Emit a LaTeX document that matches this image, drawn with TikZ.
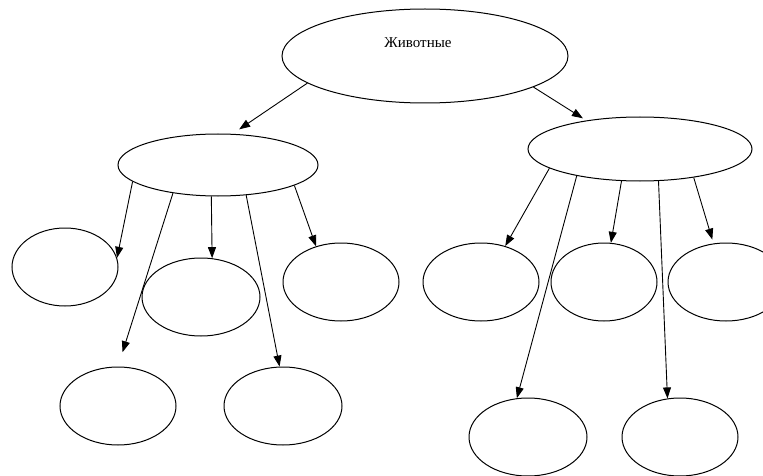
\documentclass[tikz,border=0pt]{standalone}
\usepackage{fontspec}
\setmainfont{Liberation Serif}
\usepackage{tikz}
\usetikzlibrary{positioning, shapes}
\usetikzlibrary{arrows.meta}

\tikzset{
  oval/.style={draw, ellipse, inner sep=0pt, line width=1pt},
  link/.style={->, line width=0.9pt}
}

\begin{document}
\begin{tikzpicture}[x=1pt, y=-1pt, >={Triangle[length=11pt, width=8pt]}]

% Manually size the picture
\clip (0, 0) rectangle (763, 476);

% Top
\node[oval, minimum width=286, minimum height=94] (animals) at (425, 56) {};
\node[font=\fontsize{15}{18}\selectfont] (title) at (418, 43) {Животные};

% Middle level
\node[oval, minimum width=200, minimum height=62] (left) at (218, 165) {};
\node[oval, minimum width=224, minimum height=64] (right) at (640, 149) {};

% Left group
\node[oval, minimum width=106, minimum height=78] (l1) at (65, 267) {};
\node[oval, minimum width=118, minimum height=78] (l2) at (201, 297) {};
\node[oval, minimum width=116, minimum height=78] (l3) at (341, 282) {};
\node[oval, minimum width=116, minimum height=78] (l4) at (118, 406) {};
\node[oval, minimum width=118, minimum height=78] (l5) at (283, 406) {};

% Right group
\node[oval, minimum width=116, minimum height=78] (r1) at (481, 282) {};
\node[oval, minimum width=106, minimum height=78] (r2) at (604, 282) {};
\node[oval, minimum width=116, minimum height=78] (r3) at (726, 282) {};
\node[oval, minimum width=118, minimum height=78] (r4) at (528, 437) {};
\node[oval, minimum width=116, minimum height=78] (r5) at (680, 437) {};

% Arrows from the top
\draw[link, shorten >=8pt] (animals.193) -- (left.65);
\draw[link, shorten >=4pt] (animals.344) -- (right.152);

% Arrows of the left group
\draw[link] (left.191) -- (l1.10);
\draw[link, shorten >=15pt] (left.212) -- (l4.north);
\draw[link] (left.258) -- (l2.74);
\draw[link] (left.313) -- (l5.95);
\draw[link] (left.345) -- (l3.125);

% Arrows of the right group
\draw[link] (right.192) -- (r1.56);
\draw[link] (right.203) -- (r4.106);
\draw[link] (right.240) -- (r2.80);
\draw[link] (right.300) -- (r5.108);
\draw[link, shorten >=4pt] (right.332) -- (r3.108);

\end{tikzpicture}
\end{document}
